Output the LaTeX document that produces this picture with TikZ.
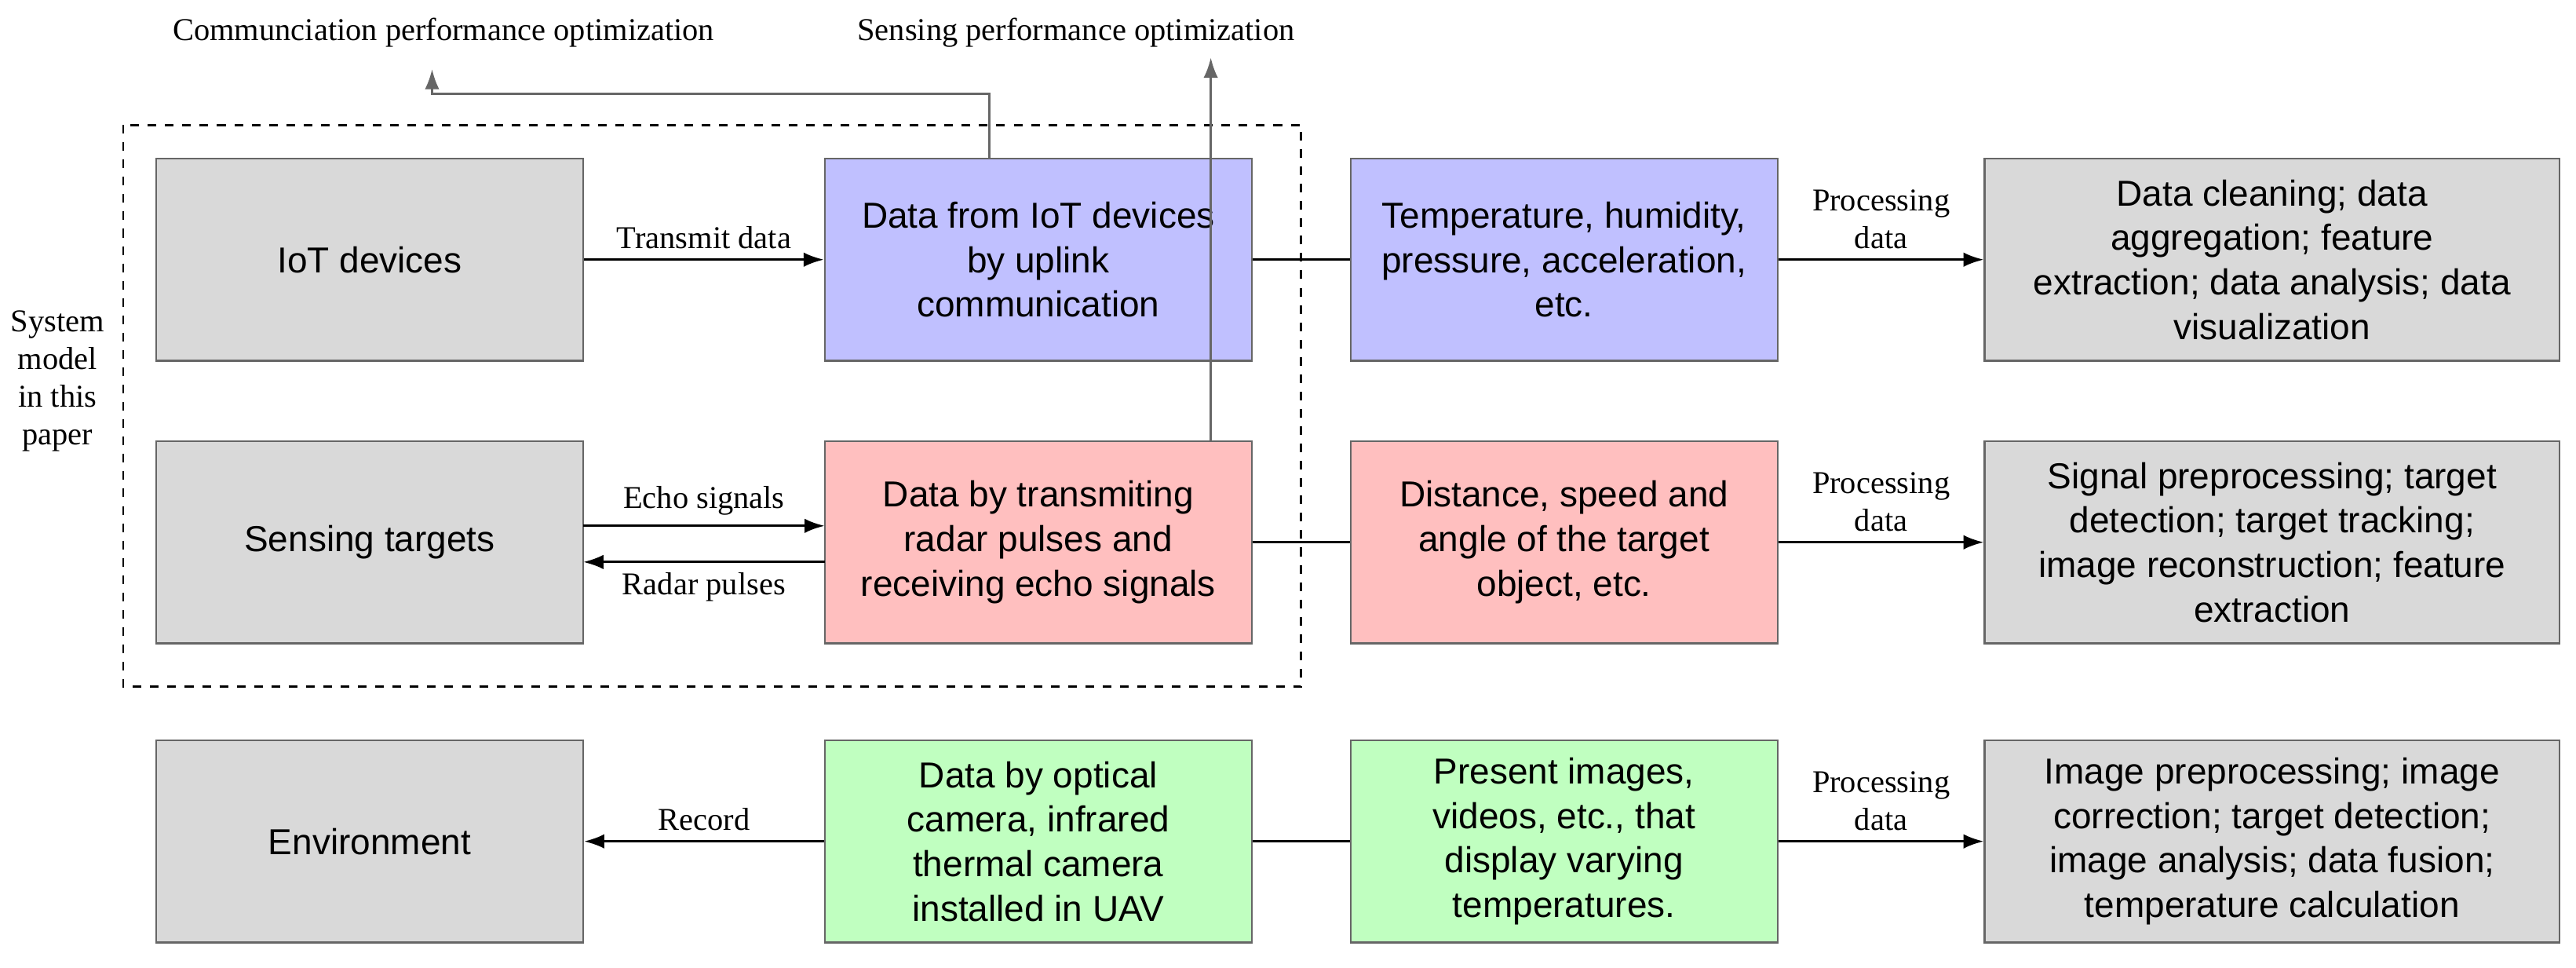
\documentclass[tikz,border=0pt]{standalone}
\usepackage{fontspec}
\setmainfont{Liberation Serif}
\newfontfamily\sansf{Liberation Sans}
\usetikzlibrary{arrows.meta}
\definecolor{gbox}{HTML}{D9D9D9}
\definecolor{bbox}{HTML}{C0C0FF}
\definecolor{rbox}{HTML}{FFBFBF}
\definecolor{grbox}{HTML}{C0FFC0}
\begin{document}
\begin{tikzpicture}[x=0.02cm,y=-0.02cm,
  box/.style={draw=black!60,line width=0.6pt,minimum width=5.2cm,minimum height=2.46cm,inner sep=2pt,align=center,font=\sansf\fontsize{12.5}{15.4}\selectfont},
  wbox/.style={box,minimum width=7cm},
  lab/.style={font=\fontsize{11}{13}\selectfont,align=center},
  arr/.style={-{Latex[length=7pt,width=5pt]},line width=0.8pt},
  ln/.style={line width=0.8pt},
  garr/.style={-{Latex[length=7pt,width=5pt]},line width=0.8pt,draw=black!60}]
\useasboundingbox (0,0) rectangle (1568,589);
\node[box,fill=gbox] (a1) at (225,158) {IoT devices};
\node[box,fill=gbox] (a2) at (225,330) {Sensing targets};
\node[box,fill=gbox] (a3) at (225,512) {Environment};
\node[box,fill=bbox] (b1) at (632,158) {Data from IoT devices\\by uplink\\communication};
\node[box,fill=rbox] (b2) at (632,330) {Data by transmiting\\radar pulses and\\receiving echo signals};
\node[box,fill=grbox] (b3) at (632,512) {Data by optical\\camera, infrared\\thermal camera\\installed in UAV};
\node[box,fill=bbox] (c1) at (952,158) {Temperature, humidity,\\pressure, acceleration,\\etc.};
\node[box,fill=rbox] (c2) at (952,330) {Distance, speed and\\angle of the target\\object, etc.};
\node[box,fill=grbox] (c3) at (952,512) {Present images,\\videos, etc., that\\display varying\\temperatures.};
\node[wbox,fill=gbox] (d1) at (1383,158) {Data cleaning; data\\aggregation; feature\\extraction; data analysis; data\\visualization};
\node[wbox,fill=gbox] (d2) at (1383,330) {Signal preprocessing; target\\detection; target tracking;\\image reconstruction; feature\\extraction};
\node[wbox,fill=gbox] (d3) at (1383,512) {Image preprocessing; image\\correction; target detection;\\image analysis; data fusion;\\temperature calculation};
\draw[dashed,line width=0.8pt] (75,76) rectangle (792,418);
\node[lab] (sm) at (35,232) {System\\model\\in this\\paper};
\node[lab] (t1) at (270,20) {Communciation performance optimization};
\node[lab] (t2) at (655,20) {Sensing performance optimization};
\coordinate (p1) at (602,57); \coordinate (p2) at (263,57); \coordinate (p3) at (263,42);
\draw[garr] (b1.north -| p1) -- (p1) -- (p2) -- (p3);
\coordinate (q1) at (737,35);
\draw[garr] (b2.north -| q1) -- (q1);
\draw[arr] (a1) -- node[lab,above]{Transmit data} (b1);
\coordinate (e1) at (355,320); \coordinate (e2) at (502,320);
\coordinate (r1) at (502,342); \coordinate (r2) at (355,342);
\draw[arr] (e1) -- node[lab,above]{Echo signals} (e2);
\draw[arr] (r1) -- node[lab,below]{Radar pulses} (r2);
\draw[arr] (b3) -- node[lab,above]{Record} (a3);
\draw[ln] (b1) -- (c1); \draw[ln] (b2) -- (c2); \draw[ln] (b3) -- (c3);
\foreach \i in {1,2,3}{\draw[arr] (c\i) -- node[lab,above]{Processing\\data} (d\i);}
\end{tikzpicture}
\end{document}
